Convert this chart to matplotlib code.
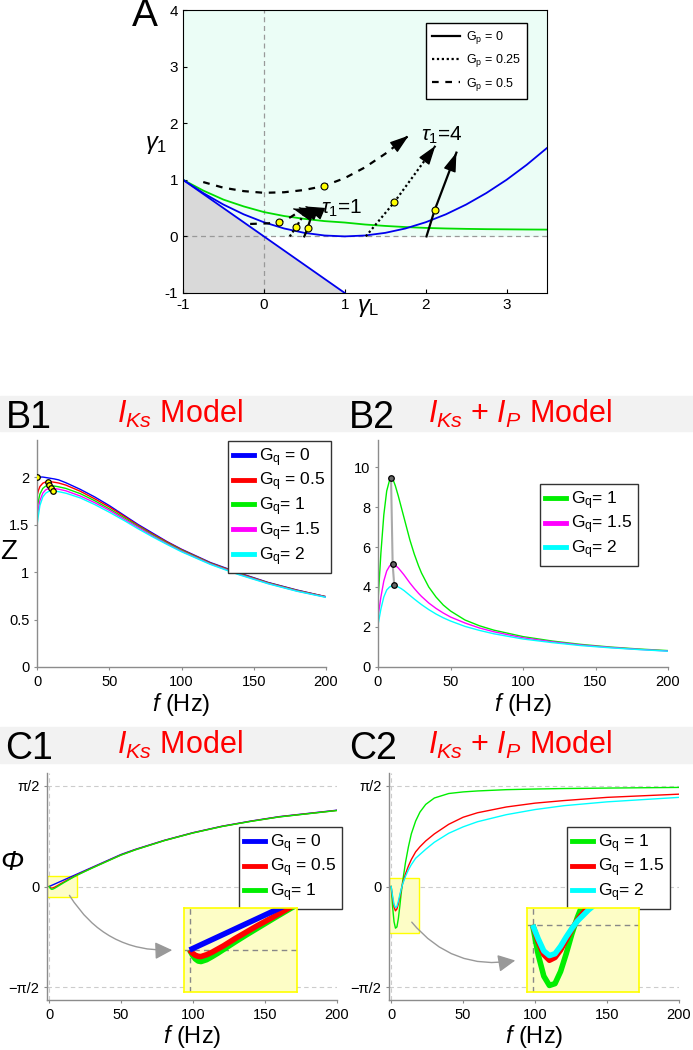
import numpy as np
import matplotlib
matplotlib.use('Agg')
import matplotlib.pyplot as plt
from matplotlib.patches import Rectangle, FancyArrowPatch
from matplotlib.lines import Line2D

plt.rcParams['font.family'] = ['Liberation Sans', 'DejaVu Sans']
plt.rcParams['mathtext.fontset'] = 'custom'
plt.rcParams['mathtext.rm'] = 'Liberation Sans'
plt.rcParams['mathtext.it'] = 'Liberation Sans:italic'
plt.rcParams['mathtext.bf'] = 'Liberation Sans:bold'
plt.rcParams['axes.unicode_minus'] = False

# ---------------- data: panel A ----------------
gammaL = [-1, -0.75, -0.5, -0.25, 0, 0.25, 0.5, 0.75, 1, 1.25, 1.5, 1.75, 2,
          2.25, 2.5, 2.75, 3, 3.25, 3.5]
blue_curve = [1.0, 0.766, 0.5625, 0.39, 0.25, 0.14, 0.0625, 0.016, 0.0, 0.016,
              0.0625, 0.14, 0.25, 0.39, 0.5625, 0.766, 1.0, 1.266, 1.5625]
green_curve = [1.0, 0.81, 0.65, 0.53, 0.43, 0.36, 0.31, 0.27, 0.245, 0.21,
               0.185, 0.165, 0.15, 0.14, 0.133, 0.128, 0.125, 0.122, 0.12]
diag_x = [-1, 1]
diag_y = [1, -1]

# trajectories (tau1 = 4)
traj_p50_x = [-0.75, -0.5, -0.25, 0, 0.25, 0.5, 0.74, 1.0, 1.25, 1.5, 1.79]
traj_p50_y = [0.96, 0.86, 0.80, 0.77, 0.78, 0.82, 0.89, 1.03, 1.22, 1.46, 1.78]
traj_p25_x = [1.26, 1.61, 2.12]
traj_p25_y = [0.0, 0.60, 1.60]
traj_p00_x = [2.01, 2.11, 2.38]
traj_p00_y = [0.0, 0.46, 1.48]
dots_tau4_x = [0.74, 1.61, 2.11]
dots_tau4_y = [0.89, 0.60, 0.46]

# trajectories (tau1 = 1)
short_p50_x = [-0.17, 0.05, 0.19, 0.33, 0.45]
short_p50_y = [0.22, 0.23, 0.25, 0.34, 0.45]
short_p25_x = [0.32, 0.40, 0.47, 0.52]
short_p25_y = [0.0, 0.17, 0.33, 0.46]
short_p00_x = [0.50, 0.54, 0.58, 0.61]
short_p00_y = [0.0, 0.14, 0.33, 0.47]
short_tips = [(0.36, 0.49), (0.43, 0.51), (0.51, 0.53)]
dots_tau1_x = [0.19, 0.40, 0.54]
dots_tau1_y = [0.25, 0.17, 0.14]

# ---------------- data: panel B1 ----------------
f_B1 = [0, 1, 2, 4, 6, 8, 10, 12, 15, 20, 30, 40, 50, 60, 70, 80, 90, 100,
        120, 140, 160, 180, 200]
Z_B1 = {
    '0': [2.00, 2.00, 2.00, 2.00, 1.995, 1.99, 1.985, 1.98, 1.97, 1.94, 1.87, 1.79,
          1.70, 1.60, 1.50, 1.41, 1.32, 1.24, 1.10, 0.99, 0.89, 0.81, 0.74],
    '0.5': [1.80, 1.86, 1.90, 1.935, 1.948, 1.952, 1.95, 1.945, 1.937, 1.915, 1.85,
            1.77, 1.685, 1.59, 1.49, 1.40, 1.315, 1.235, 1.095, 0.985, 0.887, 0.807, 0.740],
    '1': [1.65, 1.75, 1.82, 1.88, 1.905, 1.912, 1.91, 1.905, 1.897, 1.88, 1.825,
          1.75, 1.665, 1.575, 1.48, 1.39, 1.305, 1.228, 1.09, 0.98, 0.884, 0.804, 0.738],
    '1.5': [1.57, 1.67, 1.75, 1.83, 1.865, 1.878, 1.882, 1.879, 1.872, 1.855, 1.80,
            1.73, 1.65, 1.56, 1.47, 1.38, 1.297, 1.22, 1.085, 0.975, 0.88, 0.80, 0.736],
    '2': [1.49, 1.60, 1.70, 1.79, 1.83, 1.848, 1.853, 1.852, 1.846, 1.83, 1.78,
          1.71, 1.63, 1.545, 1.455, 1.37, 1.29, 1.213, 1.08, 0.97, 0.876, 0.797, 0.733],
}
labels_B1 = [r'G$_{\rm q}$ = 0', r'G$_{\rm q}$ = 0.5', r'G$_{\rm q}$= 1',
             r'G$_{\rm q}$= 1.5', r'G$_{\rm q}$= 2']
colors_B1 = ['#0000ff', '#ff0000', '#00ee00', '#ff00ff', '#00ffff']
peak_B1_f = [0, 7.5, 8.5, 9.7, 10.8]
peak_B1_Z = [2.0, 1.952, 1.912, 1.882, 1.853]

# ---------------- data: panel B2 ----------------
f_B2 = [0, 1, 2, 4, 6, 8, 9, 10, 11, 12, 14, 16, 18, 20, 22, 25, 28, 30, 35,
        40, 45, 50, 60, 70, 80, 100, 120, 140, 160, 180, 200]
Z_B2 = {
    '1': [3.3, 4.5, 5.7, 7.6, 8.8, 9.35, 9.45, 9.4, 9.25, 9.05, 8.55, 8.0, 7.45,
          6.9, 6.35, 5.65, 5.05, 4.7, 4.0, 3.5, 3.1, 2.8, 2.35, 2.06, 1.84, 1.52,
          1.3, 1.13, 1.0, 0.9, 0.82],
    '1.5': [2.5, 3.0, 3.5, 4.3, 4.8, 5.05, 5.12, 5.15, 5.13, 5.08, 4.95, 4.78, 4.6,
            4.4, 4.2, 3.93, 3.68, 3.53, 3.2, 2.93, 2.7, 2.5, 2.2, 1.95, 1.76, 1.46,
            1.26, 1.1, 0.98, 0.88, 0.8],
    '2': [2.1, 2.5, 2.9, 3.5, 3.85, 4.0, 4.04, 4.07, 4.08, 4.07, 4.0, 3.92, 3.82,
          3.7, 3.58, 3.4, 3.23, 3.12, 2.87, 2.65, 2.46, 2.3, 2.03, 1.83, 1.66, 1.4,
          1.22, 1.07, 0.96, 0.87, 0.79],
}
labels_B2 = [r'G$_{\rm q}$= 1', r'G$_{\rm q}$= 1.5', r'G$_{\rm q}$= 2']
colors_B2 = ['#00ee00', '#ff00ff', '#00ffff']
peak_B2_f = [9.0, 10.1, 11.2]
peak_B2_Z = [9.45, 5.15, 4.08]

# ---------------- data: panel C1 ----------------
f_C1 = [0, 0.5, 1, 1.5, 2, 3, 4, 5, 6, 8, 10, 12, 15, 18, 20, 25, 30, 40, 50,
        60, 80, 100, 120, 140, 160, 180, 200]
phi_C1 = {
    '0': [0, 0.005, 0.01, 0.015, 0.02, 0.03, 0.04, 0.05, 0.06, 0.08, 0.10, 0.12,
          0.15, 0.18, 0.20, 0.25, 0.30, 0.40, 0.50, 0.58, 0.72, 0.84, 0.94, 1.02,
          1.09, 1.14, 1.19],
    '0.5': [0, -0.012, -0.02, -0.024, -0.025, -0.018, -0.008, 0.004, 0.016, 0.043,
            0.068, 0.093, 0.128, 0.165, 0.187, 0.24, 0.292, 0.393, 0.493, 0.575,
            0.717, 0.837, 0.937, 1.017, 1.087, 1.137, 1.187],
    '1': [0, -0.02, -0.034, -0.042, -0.044, -0.037, -0.025, -0.012, 0.002, 0.03,
          0.057, 0.083, 0.122, 0.16, 0.182, 0.236, 0.288, 0.39, 0.49, 0.572,
          0.715, 0.835, 0.935, 1.015, 1.085, 1.135, 1.185],
}
labels_C1 = [r'G$_{\rm q}$ = 0', r'G$_{\rm q}$ = 0.5', r'G$_{\rm q}$= 1']
colors_C1 = ['#0000ff', '#ff0000', '#00ee00']

# ---------------- data: panel C2 ----------------
f_C2 = [0, 1, 2, 3, 4, 5, 6, 7, 8, 10, 12, 14, 17, 20, 24, 30, 40, 50, 60, 80,
        100, 120, 150, 200]
phi_C2 = {
    '1': [0, -0.32, -0.55, -0.65, -0.63, -0.50, -0.31, -0.10, 0.08, 0.38, 0.62,
          0.82, 1.02, 1.16, 1.28, 1.38, 1.45, 1.475, 1.49, 1.51, 1.52, 1.528,
          1.535, 1.545],
    '1.5': [0, -0.18, -0.32, -0.38, -0.35, -0.27, -0.16, -0.05, 0.05, 0.20, 0.32,
            0.42, 0.54, 0.62, 0.71, 0.82, 0.97, 1.08, 1.15, 1.24, 1.30, 1.34,
            1.39, 1.44],
    '2': [0, -0.15, -0.28, -0.33, -0.31, -0.23, -0.13, -0.04, 0.04, 0.16, 0.26,
          0.34, 0.44, 0.50, 0.58, 0.69, 0.83, 0.93, 1.01, 1.12, 1.20, 1.26,
          1.32, 1.39],
}
labels_C2 = [r'G$_{\rm q}$ = 1', r'G$_{\rm q}$ = 1.5', r'G$_{\rm q}$= 2']
colors_C2 = ['#00ee00', '#ff0000', '#00ffff']

# ---------------- figure ----------------
W, H = 693, 1050
fig = plt.figure(figsize=(W / 100, H / 100), dpi=100)


def fx(x):
    return x / W


def fy(y):
    return 1 - y / H


def add_ax(x0, y0, x1, y1):
    return fig.add_axes([fx(x0), fy(y1), (x1 - x0) / W, (y1 - y0) / H])


def head(ax, x0, y0, x1, y1, color='k'):
    # short stub so the shaft hides under the head
    sx = x1 - 0.1 * (x1 - x0)
    sy = y1 - 0.1 * (y1 - y0)
    ax.annotate('', xy=(x1, y1), xytext=(sx, sy),
                arrowprops=dict(arrowstyle='-|>,head_length=0.9,head_width=0.3',
                                color=color, lw=1.0, mutation_scale=13,
                                shrinkA=0, shrinkB=0))


# header bands
for yb0, yb1 in [(396, 431), (727, 763)]:
    fig.add_artist(Rectangle((0, fy(yb1)), 1, (yb1 - yb0) / H,
                             transform=fig.transFigure, color='#f2f2f2', zorder=0))

# ---------------- panel A ----------------
axA = add_ax(183, 10, 547, 293)
axA.set_xlim(-1, 3.5)
axA.set_ylim(-1, 4)
axA.fill_between([-1, 0, 3.5], [1, 0, 0], [4, 4, 4], color='#ebfdf6', lw=0, zorder=0)
axA.fill_between(diag_x, [-1, -1], diag_y, color='#d9d9d9', lw=0, zorder=0)
axA.axhline(0, color='#999999', ls=(0, (4, 3)), lw=0.9, zorder=1)
axA.axvline(0, color='#999999', ls=(0, (4, 3)), lw=0.9, zorder=1)
axA.plot(gammaL, green_curve, color='#00dd00', lw=1.3, zorder=2)
axA.plot(gammaL, blue_curve, color='#0000ee', lw=1.3, zorder=2)
axA.plot(diag_x, diag_y, color='#0000ee', lw=1.3, zorder=2)

axA.plot(traj_p50_x, traj_p50_y, color='k', ls=(0, (3, 3)), lw=1.6, zorder=3)
axA.plot(traj_p25_x, traj_p25_y, color='k', ls=(0, (1, 1.2)), lw=1.6, zorder=3)
axA.plot(traj_p00_x, traj_p00_y, color='k', ls='-', lw=1.6, zorder=3)
head(axA, traj_p50_x[-2], traj_p50_y[-2], traj_p50_x[-1], traj_p50_y[-1])
head(axA, traj_p25_x[-2], traj_p25_y[-2], traj_p25_x[-1], traj_p25_y[-1])
head(axA, traj_p00_x[-2], traj_p00_y[-2], traj_p00_x[-1], traj_p00_y[-1])

axA.plot(short_p50_x, short_p50_y, color='k', ls=(0, (3, 3)), lw=1.6, zorder=3)
axA.plot(short_p25_x, short_p25_y, color='k', ls=(0, (1, 1.2)), lw=1.6, zorder=3)
axA.plot(short_p00_x, short_p00_y, color='k', ls='-', lw=1.6, zorder=3)
for (xs, ys), tip in zip([(short_p50_x, short_p50_y), (short_p25_x, short_p25_y),
                          (short_p00_x, short_p00_y)], short_tips):
    head(axA, xs[-1], ys[-1], tip[0], tip[1])

axA.plot(dots_tau4_x + dots_tau1_x, dots_tau4_y + dots_tau1_y, 'o', ms=5,
         mfc='#ffff00', mec='k', mew=0.8, zorder=5)
axA.text(2.2, 1.78, r'$\tau_1$=4', fontsize=15, ha='center', va='center')
axA.text(0.96, 0.50, r'$\tau_1$=1', fontsize=15, ha='center', va='center')
axA.set_xticks([-1, 0, 1, 2, 3])
axA.set_yticks([-1, 0, 1, 2, 3, 4])
axA.tick_params(labelsize=11, direction='in', length=3)
for s in axA.spines.values():
    s.set_color('k')
    s.set_linewidth(0.8)
legA_handles = [Line2D([], [], color='k', ls='-', lw=1.6),
                Line2D([], [], color='k', ls=(0, (1, 1.2)), lw=1.6),
                Line2D([], [], color='k', ls=(0, (3, 3)), lw=1.6)]
axA.legend(legA_handles, [r'G$_{\rm p}$ = 0', r'G$_{\rm p}$ = 0.25', r'G$_{\rm p}$ = 0.5'],
           loc='upper left', bbox_to_anchor=(fx(426), fy(23)), bbox_transform=fig.transFigure,
           fontsize=9, fancybox=False, edgecolor='k', framealpha=1, borderpad=0.5,
           labelspacing=0.5, handlelength=2.2, handletextpad=0.5, borderaxespad=0)
fig.text(fx(145), fy(16), 'A', fontsize=28, ha='center', va='center')
fig.text(fx(156), fy(145), r'$\gamma_1$', fontsize=17, ha='center', va='center')
fig.text(fx(368), fy(308), r'$\gamma_{\rm L}$', fontsize=17, ha='center', va='center')


# ---------------- common styling for B / C ----------------
def style(ax):
    for side in ['top', 'right']:
        ax.spines[side].set_visible(False)
    for side in ['left', 'bottom']:
        ax.spines[side].set_color('#8c8c8c')
        ax.spines[side].set_linewidth(1.0)
    ax.tick_params(labelsize=10.5, length=2.5, color='#8c8c8c', pad=3)
    ax.set_xticks([0, 50, 100, 150, 200])


def leg(ax, handles, labels, x, y):
    ax.legend(handles, labels, loc='upper left', bbox_to_anchor=(fx(x), fy(y)),
              bbox_transform=fig.transFigure, fontsize=12.5, fancybox=False,
              edgecolor='#333333', framealpha=1, borderpad=0.3, labelspacing=0.12,
              handlelength=1.2, handletextpad=0.3, borderaxespad=0)


# ---------------- panel B1 ----------------
axB1 = add_ax(37, 440, 326, 667)
for key, c in zip(Z_B1, colors_B1):
    axB1.plot(f_B1, Z_B1[key], color=c, lw=1.0)
axB1.plot(peak_B1_f[1:], peak_B1_Z[1:], color='#444444', lw=1.2)
axB1.plot(peak_B1_f, peak_B1_Z, 'o', ms=4, mfc='#ffff00', mec='k', mew=0.9, zorder=5)
axB1.set_xlim(0, 200)
axB1.set_ylim(0, 2.39)
axB1.set_yticks([0, 0.5, 1, 1.5, 2])
axB1.set_yticklabels(['0', '0.5', '1', '1.5', '2'])
style(axB1)
leg(axB1, [Line2D([], [], color=c, lw=3.5) for c in colors_B1], labels_B1, 228, 441)

# ---------------- panel B2 ----------------
axB2 = add_ax(378, 440, 668, 667)
for key, c in zip(Z_B2, colors_B2):
    axB2.plot(f_B2, Z_B2[key], color=c, lw=1.0)
axB2.plot(peak_B2_f, peak_B2_Z, color='#aaaaaa', lw=1.5, zorder=4)
axB2.plot(peak_B2_f, peak_B2_Z, 'o', ms=4, mfc='#666666', mec='k', mew=0.9, zorder=5)
axB2.set_xlim(0, 200)
axB2.set_ylim(0, 11.35)
axB2.set_yticks([0, 2, 4, 6, 8, 10])
style(axB2)
leg(axB2, [Line2D([], [], color=c, lw=3.5) for c in colors_B2], labels_B2, 540, 484)


# ---------------- panels C ----------------
def phase_axes(x0, x1, f, phi, colors, labels, box, inset_px, inset_ylim, leg_xy, inset_order):
    ax = add_ax(x0, 773, x1, 1000)
    for yv in [-np.pi / 2, 0, np.pi / 2]:
        ax.axhline(yv, color='#cccccc', ls=(0, (4, 3)), lw=0.8, zorder=0)
    ax.axvline(0, color='#cccccc', ls=(0, (4, 3)), lw=0.8, zorder=0)
    ax.add_patch(Rectangle((box[0], box[1]), box[2], box[3], facecolor='#fdfdc6',
                           edgecolor='#ffff00', lw=1.0, zorder=1))
    keys = list(phi)
    for key, c in zip(keys, colors):
        ax.plot(f, phi[key], color=c, lw=1.0, zorder=2)
    ax.set_xlim(-1.5, 200)
    ax.set_ylim(-1.77, 1.77)
    ax.set_yticks([-np.pi / 2, 0, np.pi / 2])
    ax.set_yticklabels(['\u2212\u03c0/2', '0', '\u03c0/2'], fontsize=11)
    style(ax)
    leg(ax, [Line2D([], [], color=c, lw=3.5) for c in colors], labels, *leg_xy)

    ins = add_ax(*inset_px)
    ins.set_facecolor('#fdfdc6')
    for s in ins.spines.values():
        s.set_color('#ffff00')
        s.set_linewidth(1.2)
    ins.axhline(0, color='#888888', ls=(0, (4, 3)), lw=1.0)
    ins.axvline(0, color='#888888', ls=(0, (4, 3)), lw=1.0)
    cmap = dict(zip(keys, colors))
    for i in inset_order:
        ins.plot(f, phi[keys[i]], color=cmap[keys[i]], lw=4, solid_capstyle='butt')
    ins.set_xlim(-1, 19)
    ins.set_ylim(*inset_ylim)
    ins.set_xticks([])
    ins.set_yticks([])
    return ax


axC1 = phase_axes(47, 337, f_C1, phi_C1, colors_C1, labels_C1, (-1.5, -0.16, 20.5, 0.33),
                  (184, 908, 297, 992), (-0.16, 0.16), (239, 827), [2, 1, 0])
axC2 = phase_axes(389, 679, f_C2, phi_C2, colors_C2, labels_C2, (-1.5, -0.73, 20.5, 0.87),
                  (527, 908, 639, 992), (-0.72, 0.18), (567, 827), [0, 1, 2])

for pa, pb in [((68, 893), (175, 950)), ((410, 920), (518, 960))]:
    fig.add_artist(FancyArrowPatch((fx(pa[0]), fy(pa[1])), (fx(pb[0]), fy(pb[1])),
                                   transform=fig.transFigure, connectionstyle='arc3,rad=0.3',
                                   arrowstyle='-|>,head_length=0.7,head_width=0.35',
                                   mutation_scale=15, color='#999999', lw=1.0))

# ---------------- texts ----------------
for lab, x, y in [('B1', 6, 428), ('B2', 349, 428), ('C1', 5, 759), ('C2', 349, 759)]:
    fig.text(fx(x), fy(y), lab, fontsize=27, ha='left', va='baseline')
for txt, x, y in [(r'$I_{Ks}$ Model', 117, 423), (r'$I_{Ks}$ + $I_P$ Model', 428, 423),
                  (r'$I_{Ks}$ Model', 117, 754), (r'$I_{Ks}$ + $I_P$ Model', 428, 754)]:
    fig.text(fx(x), fy(y), txt, fontsize=22, color='#ff0000', ha='left', va='baseline')

fig.text(fx(9), fy(552), 'Z', fontsize=20, ha='center', va='center')
fig.text(fx(12), fy(863), '\u03a6', fontsize=20, style='italic', ha='center', va='center')
for x, y in [(181, 705), (523, 705), (192, 1036), (534, 1036)]:
    fig.text(fx(x), fy(y), r'$f$ (Hz)', fontsize=17, ha='center', va='center')

fig.savefig('out.png', dpi=100)
